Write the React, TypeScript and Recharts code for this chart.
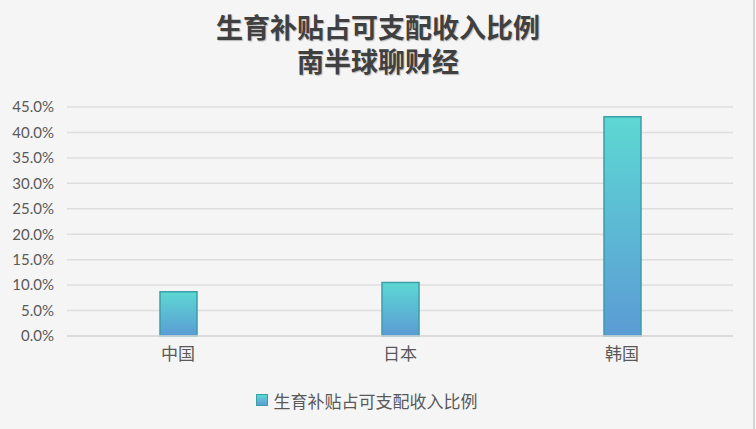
import React from "react";
import { BarChart, Bar, XAxis, YAxis, CartesianGrid, Legend } from "recharts";

const countries = ["中国", "日本", "韩国"];
const subsidyRatio = [0.087, 0.105, 0.431];
const yTicks = [0, 0.05, 0.1, 0.15, 0.2, 0.25, 0.3, 0.35, 0.4, 0.45];
const seriesName = "生育补贴占可支配收入比例";
const titleLines = ["生育补贴占可支配收入比例", "南半球聊财经"];

const chartData = countries.map((c, i) => ({ country: c, value: subsidyRatio[i] }));

const LegendBox = () => (
  <div
    style={{
      display: "flex",
      justifyContent: "center",
      alignItems: "center",
      height: 24,
      fontFamily: "'Noto Sans CJK SC', sans-serif",
      fontSize: 17,
      color: "#595959",
    }}
  >
    <span
      style={{
        width: 10,
        height: 10,
        marginRight: 6,
        border: "1px solid #3a9fa8",
        background: "linear-gradient(#5dd8d3, #5b9bd5)",
      }}
    />
    {seriesName}
  </div>
);

export default function App() {
  return (
    <div
      style={{
        position: "absolute",
        left: 0,
        top: 0,
        width: 756,
        height: 429,
        background: "#f5f5f5",
        overflow: "hidden",
      }}
    >
      <div
        style={{
          position: "absolute",
          top: 10,
          left: 0,
          width: 756,
          textAlign: "center",
          fontFamily: "'Noto Sans CJK SC', serif",
          fontWeight: 700,
          fontSize: 27,
          lineHeight: "34px",
          color: "#404040",
          textShadow: "1px 1px 1px rgba(0,0,0,0.25)",
        }}
      >
        {titleLines.map((t) => (
          <div key={t}>{t}</div>
        ))}
      </div>
      <BarChart
        width={756}
        height={429}
        data={chartData}
        margin={{ top: 107, right: 23, left: 0, bottom: 17 }}
      >
        <defs>
          <linearGradient id="barFill" x1="0" y1="0" x2="0" y2="1">
            <stop offset="0%" stopColor="#5dd8d3" />
            <stop offset="100%" stopColor="#5b9bd5" />
          </linearGradient>
        </defs>
        <CartesianGrid vertical={false} stroke="#dedede" strokeWidth={1.5} />
        <XAxis
          dataKey="country"
          height={52}
          axisLine={{ stroke: "#d9d9d9", strokeWidth: 1.5 }}
          tickLine={false}
          tickSize={0}
          tickMargin={12}
          tick={{ fill: "#595959", fontSize: 17, fontFamily: "'Noto Sans CJK SC', sans-serif" }}
        />
        <YAxis
          width={67}
          domain={[0, 0.45]}
          ticks={yTicks}
          interval={0}
          axisLine={false}
          tickLine={false}
          tickSize={0}
          tickMargin={13}
          tickFormatter={(v: number) => (v * 100).toFixed(1) + "%"}
          tick={{ fill: "#595959", fontSize: 15, fontFamily: "Lato, sans-serif" }}
        />
        <Legend verticalAlign="bottom" height={24} content={<LegendBox />} />
        <Bar
          dataKey="value"
          name={seriesName}
          barSize={37}
          fill="url(#barFill)"
          stroke="#3a9fa8"
          strokeWidth={1.5}
          isAnimationActive={false}
        />
      </BarChart>
      <div
        style={{
          position: "absolute",
          left: 753,
          top: 0,
          width: 2,
          height: 429,
          background: "#d4d4d4",
        }}
      />
    </div>
  );
}
